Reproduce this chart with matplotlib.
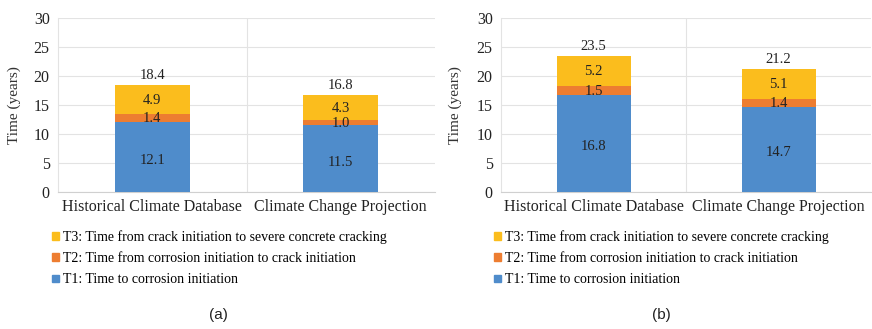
import matplotlib.pyplot as plt
from matplotlib.patches import Patch

# ---- data ----
categories = ["Historical Climate Database", "Climate Change Projection"]
t1_a = [12.1, 11.5]
t2_a = [1.4, 1.0]
t3_a = [4.9, 4.3]
total_a = [18.4, 16.8]
t1_b = [16.8, 14.7]
t2_b = [1.5, 1.4]
t3_b = [5.2, 5.1]
total_b = [23.5, 21.2]
series_labels = ["T1: Time to corrosion initiation",
                 "T2: Time from corrosion initiation to crack initiation",
                 "T3: Time from crack initiation to severe concrete cracking"]
panel_labels = ["(a)", "(b)"]
yticks = [0, 5, 10, 15, 20, 25, 30]

C_T1 = "#4f8ccb"
C_T2 = "#ed7d31"
C_T3 = "#fbbd1d"
GRID = "#e3e3e3"

plt.rcParams["font.family"] = ["Liberation Serif", "DejaVu Serif"]

W, H = 872, 329
fig = plt.figure(figsize=(W / 100, H / 100), dpi=100)


def panel(left_px, right_px, t1, t2, t3, total, ylab_x, legend_x, plabel_x, plabel):
    ax = fig.add_axes([left_px / W, (H - 192) / H, (right_px - left_px) / W, 174 / H])
    x = list(range(len(categories)))
    ax.bar(x, t1, width=0.4, color=C_T1, zorder=3)
    ax.bar(x, t2, width=0.4, bottom=t1, color=C_T2, zorder=3)
    b12 = [a + b for a, b in zip(t1, t2)]
    ax.bar(x, t3, width=0.4, bottom=b12, color=C_T3, zorder=3)
    for i in x:
        ax.text(i, t1[i] / 2 - 0.6, f"{t1[i]:.1f}", ha="center", va="center", fontsize=10.5, color="#222222", zorder=4)
        ax.text(i, t1[i] + t2[i] / 2 - 0.2, f"{t2[i]:.1f}", ha="center", va="center", fontsize=10.5, color="#222222", zorder=4)
        ax.text(i, b12[i] + t3[i] / 2 - 0.2, f"{t3[i]:.1f}", ha="center", va="center", fontsize=10.5, color="#222222", zorder=4)
        ax.text(i, total[i] + 0.5, f"{total[i]:.1f}", ha="center", va="bottom", fontsize=10.5, color="#222222", zorder=4)
    ax.set_xlim(-0.5, 1.5)
    ax.set_ylim(0, 30)
    ax.set_yticks(yticks)
    ax.set_yticklabels([str(v) for v in yticks], fontsize=11.5, color="#222222")
    ax.set_xticks(x)
    ax.set_xticklabels(categories, fontsize=11.5, color="#222222")
    ax.tick_params(length=0, pad=6)
    ax.tick_params(axis="x", pad=5)
    ax.grid(axis="y", color=GRID, linewidth=0.8, zorder=0)
    ax.axvline(0.5, color=GRID, linewidth=0.8, zorder=0)
    for s in ["top", "right"]:
        ax.spines[s].set_visible(False)
    ax.spines["left"].set_color(GRID)
    ax.spines["bottom"].set_color("#d0d0d0")
    fig.text(ylab_x / W, (H - 105) / H, "Time (years)", rotation=90, ha="center", va="center",
             fontsize=11, color="#333333")
    handles = [Patch(color=C_T3), Patch(color=C_T2), Patch(color=C_T1)]
    labels = series_labels[::-1]
    fig.legend(handles, labels, loc="upper left", bbox_to_anchor=(legend_x / W, (H - 230) / H),
               frameon=False, fontsize=10, handlelength=0.5, handleheight=0.5, handletextpad=0.3,
               labelspacing=0.6, borderpad=0, borderaxespad=0)
    fig.text(plabel_x / W, (H - 315) / H, plabel, ha="center", va="center", fontsize=11,
             family=["Liberation Sans", "DejaVu Sans"], color="#222222")
    return ax


panel(58, 435, t1_a, t2_a, t3_a, total_a, 14, 52, 218, panel_labels[0])
panel(501, 871, t1_b, t2_b, t3_b, total_b, 455, 494, 661, panel_labels[1])

fig.savefig("out.png", dpi=100)
